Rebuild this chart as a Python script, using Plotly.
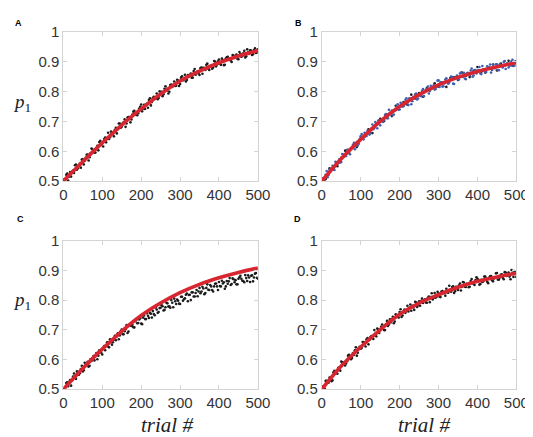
import plotly.graph_objects as go

# ---------------- data ----------------
trial = list(range(0, 501, 5))
trial_mid = [t + 2.5 for t in range(0, 500, 5)]
trial_b_black = list(range(0, 501, 10))
fit_trial = [0, 50, 100, 150, 200, 250, 300, 350, 400, 450, 500]

p_a = [.506, .499, .525, .515, .515, .535, .553, .538, .553, .545,
       .573, .568, .588, .569, .594, .606, .595, .611, .603, .635,
       .627, .641, .630, .662, .647, .663, .650, .679, .674, .693,
       .682, .697, .682, .713, .715, .707, .733, .723, .721, .743,
       .757, .743, .742, .759, .772, .754, .779, .776, .794, .779,
       .793, .785, .810, .810, .794, .822, .816, .834, .820, .837,
       .826, .852, .841, .834, .856, .856, .847, .869, .857, .868,
       .856, .881, .880, .873, .894, .873, .886, .881, .901, .891,
       .908, .890, .906, .890, .915, .911, .905, .923, .913, .925,
       .909, .927, .920, .937, .919, .932, .939, .923, .940, .930, .942]
p_a_mid = [.501, .521, .502, .530, .531, .527, .555, .543, .559, .572,
           .556, .578, .589, .580, .609, .598, .596, .618, .631, .621,
           .616, .646, .644, .641, .666, .658, .672, .660, .693, .679,
           .693, .707, .693, .715, .697, .723, .736, .728, .728, .749,
           .734, .756, .758, .746, .778, .765, .783, .778, .775, .801,
           .800, .791, .818, .804, .800, .824, .822, .819, .840, .819,
           .847, .838, .857, .839, .855, .861, .847, .876, .863, .861,
           .879, .860, .879, .890, .877, .886, .877, .903, .885, .902,
           .894, .911, .889, .911, .917, .908, .900, .921, .918, .910,
           .933, .917, .929, .915, .942, .927, .938, .926, .946, .932]
fit_a = [.500, .565, .628, .688, .742, .792, .836, .869, .897, .920, .938]

p_b_blue = [.504, .502, .521, .513, .539, .541, .538, .565, .557, .573,
            .564, .589, .586, .605, .595, .610, .622, .607, .631, .625,
            .651, .643, .662, .651, .665, .660, .690, .678, .694, .703,
            .687, .707, .705, .725, .711, .728, .737, .723, .738, .758,
            .740, .759, .751, .773, .763, .778, .758, .782, .791, .774,
            .791, .785, .809, .799, .810, .794, .820, .815, .807, .816,
            .838, .832, .817, .828, .845, .827, .843, .849, .826, .849,
            .842, .861, .850, .863, .842, .863, .855, .878, .854, .873,
            .867, .883, .859, .875, .866, .885, .882, .864, .891, .879,
            .892, .872, .888, .881, .903, .894, .881, .889, .907, .887, .903]
p_b_blue_mid = [.509, .501, .534, .520, .533, .551, .537, .563, .561, .562,
                .591, .582, .584, .605, .590, .613, .628, .618, .619, .641,
                .658, .640, .654, .669, .656, .676, .674, .698, .677, .703,
                .701, .698, .722, .711, .739, .724, .721, .739, .750, .739,
                .763, .750, .757, .778, .755, .777, .768, .782, .794, .777,
                .787, .803, .785, .806, .817, .802, .811, .821, .809, .837,
                .816, .830, .818, .841, .831, .831, .851, .827, .846, .854,
                .841, .864, .850, .844, .862, .857, .871, .850, .873, .861,
                .873, .861, .886, .869, .866, .879, .891, .873, .881, .892,
                .873, .892, .884, .900, .876, .895, .887, .902, .886, .902]
p_b_black = [.506, .507, .543, .542, .550, .578, .602, .594, .615, .614,
             .648, .649, .674, .661, .692, .709, .702, .722, .718, .753,
             .749, .765, .756, .790, .777, .795, .783, .812, .808, .828,
             .817, .831, .816, .846, .848, .839, .864, .853, .849, .870,
             .883, .867, .864, .880, .891, .871, .894, .888, .904, .887, .898]
fit_b = [.500, .575, .640, .700, .750, .790, .823, .848, .868, .884, .897]

p_c = [.501, .500, .523, .525, .512, .543, .539, .560, .549, .568,
       .560, .589, .580, .576, .601, .603, .597, .622, .613, .626,
       .617, .645, .648, .644, .668, .650, .667, .665, .688, .681,
       .701, .685, .702, .689, .715, .713, .709, .729, .722, .735,
       .721, .741, .736, .756, .740, .754, .763, .749, .768, .760,
       .774, .779, .767, .791, .778, .774, .791, .805, .787, .798,
       .787, .811, .803, .818, .796, .818, .826, .812, .824, .813,
       .841, .829, .839, .824, .853, .834, .846, .829, .855, .846,
       .861, .846, .856, .838, .864, .863, .851, .873, .860, .853,
       .872, .882, .865, .860, .874, .883, .861, .883, .876, .891, .872]
p_c_mid = [.501, .521, .510, .531, .529, .553, .535, .557, .554, .579,
           .564, .580, .592, .579, .595, .612, .614, .601, .631, .623,
           .639, .631, .658, .641, .659, .658, .680, .678, .668, .695,
           .685, .695, .716, .694, .715, .717, .708, .734, .723, .739,
           .719, .748, .736, .747, .757, .741, .753, .775, .757, .773,
           .783, .765, .776, .789, .779, .800, .776, .796, .802, .788,
           .811, .798, .806, .822, .817, .800, .826, .812, .834, .829,
           .823, .845, .820, .841, .835, .851, .834, .846, .856, .834,
           .847, .865, .860, .846, .855, .874, .854, .870, .867, .853,
           .877, .872, .864, .884, .864, .876, .882, .863, .889, .875]
fit_c = [.500, .570, .635, .695, .748, .790, .825, .853, .875, .893, .908]

p_d = [.501, .500, .528, .523, .539, .527, .557, .557, .552, .566,
       .593, .590, .580, .594, .616, .601, .622, .631, .613, .639,
       .636, .659, .652, .668, .651, .676, .672, .699, .678, .701,
       .699, .718, .699, .718, .713, .735, .736, .722, .752, .744,
       .760, .743, .761, .757, .781, .774, .764, .775, .794, .777,
       .796, .797, .790, .803, .791, .812, .810, .802, .824, .811,
       .823, .810, .830, .824, .838, .825, .835, .844, .824, .845,
       .834, .856, .844, .859, .844, .854, .845, .871, .855, .867,
       .872, .852, .868, .863, .879, .862, .875, .881, .863, .875,
       .891, .869, .885, .875, .894, .881, .893, .870, .892, .898, .878]
p_d_mid = [.509, .502, .528, .522, .539, .530, .562, .555, .572, .562,
           .590, .587, .587, .613, .609, .605, .615, .641, .623, .643,
           .639, .659, .644, .672, .666, .679, .669, .683, .704, .689,
           .710, .709, .699, .730, .718, .725, .744, .728, .748, .741,
           .769, .748, .768, .765, .762, .785, .781, .767, .792, .783,
           .781, .805, .799, .792, .808, .793, .823, .808, .808, .828,
           .811, .829, .826, .815, .826, .848, .828, .846, .830, .840,
           .850, .832, .861, .845, .855, .843, .864, .857, .851, .877,
           .868, .854, .861, .879, .872, .857, .880, .867, .873, .890,
           .869, .876, .887, .870, .893, .883, .879, .901, .878, .895]
fit_d = [.500, .578, .642, .700, .752, .790, .818, .843, .863, .878, .890]

x_ticks = [0, 100, 200, 300, 400, 500]
y_ticks = [0.5, 0.6, 0.7, 0.8, 0.9, 1.0]
y_tick_labels = ["0.5", "0.6", "0.7", "0.8", "0.9", "1"]

# ---------------- styles ----------------
RED = "#d7262f"
BLUE = "#3d5fae"
DOT = "#1c1c1c"
FRAME = "#d4d4d4"

fig = go.Figure()

def dots(x, y, ax, color, size=2.6):
    fig.add_trace(go.Scatter(x=x, y=y, mode="markers", xaxis="x" + ax, yaxis="y" + ax,
                             marker=dict(size=size, color=color, line=dict(width=0)),
                             showlegend=False, hoverinfo="skip"))

def fit(x, y, ax):
    fig.add_trace(go.Scatter(x=x, y=y, mode="lines", xaxis="x" + ax, yaxis="y" + ax,
                             line=dict(color=RED, width=3.6, shape="spline", smoothing=1.0),
                             showlegend=False, hoverinfo="skip"))

dots(trial, p_a, "", DOT); dots(trial_mid, p_a_mid, "", DOT); fit(fit_trial, fit_a, "")
dots(trial_b_black, p_b_black, "2", DOT)
dots(trial, p_b_blue, "2", BLUE); dots(trial_mid, p_b_blue_mid, "2", BLUE)
fit(fit_trial, fit_b, "2")
dots(trial, p_c, "3", DOT); dots(trial_mid, p_c_mid, "3", DOT); fit(fit_trial, fit_c, "3")
dots(trial, p_d, "4", DOT); dots(trial_mid, p_d_mid, "4", DOT); fit(fit_trial, fit_d, "4")

W, H = 533, 437
xl = [53 / W, 254 / W]
xr = [320 / W, 521 / W]
yt = [1 - 170.7 / H, 1 - 15.7 / H]
yb = [1 - 387.3 / H, 1 - 232.7 / H]

tickfont = dict(family="Liberation Sans, Arial, sans-serif", size=15, color="#333333")

def xax(domain, anchor):
    return dict(domain=domain, anchor=anchor, range=[0, 500], tickvals=x_ticks,
                ticks="inside", ticklen=4, tickcolor=FRAME, showline=True, linecolor=FRAME,
                linewidth=1, mirror="ticks", showgrid=False, zeroline=False,
                tickfont=tickfont, fixedrange=True)

def yax(domain, anchor):
    return dict(domain=domain, anchor=anchor, range=[0.5, 1.0], tickvals=y_ticks,
                ticktext=y_tick_labels, ticks="inside", ticklen=4, tickcolor=FRAME,
                showline=True, linecolor=FRAME, linewidth=1, mirror="ticks",
                showgrid=False, zeroline=False, tickfont=tickfont, fixedrange=True)

fig.update_layout(
    width=W, height=H, margin=dict(l=0, r=0, t=0, b=0),
    paper_bgcolor="white", plot_bgcolor="white",
    xaxis=xax(xl, "y"), yaxis=yax(yt, "x"),
    xaxis2=xax(xr, "y2"), yaxis2=yax(yt, "x2"),
    xaxis3=xax(xl, "y3"), yaxis3=yax(yb, "x3"),
    xaxis4=xax(xr, "y4"), yaxis4=yax(yb, "x4"),
)

letter_font = dict(family="Liberation Sans, Arial, sans-serif", size=9, color="#000000")
serif = dict(family="Liberation Serif, Times New Roman, serif", size=19, color="#222222")
ann = []
for txt, x, y in [("A", 7, 6), ("B", 296, 6), ("C", 9, 210), ("D", 295, 210)]:
    ann.append(dict(text="<b>%s</b>" % txt, x=x / W, y=1 - y / H, xref="paper", yref="paper",
                    xanchor="center", yanchor="middle", showarrow=False, font=letter_font))
for y in [90, 295]:
    ann.append(dict(text="<i>p</i><sub>1</sub>", x=10 / W, y=1 - y / H, xref="paper", yref="paper",
                    xanchor="center", yanchor="middle", showarrow=False, font=serif))
for x in [160, 426]:
    ann.append(dict(text="<i>trial #</i>", x=x / W, y=1 - 424 / H, xref="paper", yref="paper",
                    xanchor="center", yanchor="middle", showarrow=False,
                    font=dict(family="Liberation Serif, Times New Roman, serif", size=21, color="#222222")))
fig.update_layout(annotations=ann)

fig.write_html("out.html")
